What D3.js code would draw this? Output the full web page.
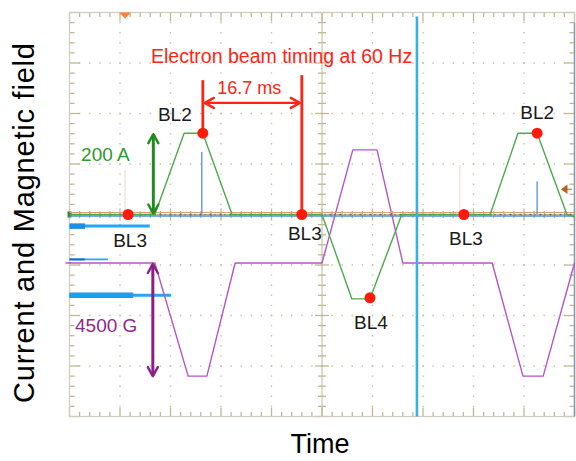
<!DOCTYPE html>
<html>
<head>
<meta charset="utf-8">
<script src="https://cdn.jsdelivr.net/npm/d3@7"></script>
<style>
  body { margin: 0; background: #fff; }
  svg { display: block; font-family: "Liberation Sans", Arial, sans-serif; }
</style>
</head>
<body>
<div id="chart"></div>
<script>
// scope screen: 10 divisions of time, 8 divisions of amplitude (centre = 0)
const currentT = [0, 1.69, 2.27, 2.64, 3.22, 5.0, 5.59, 5.95, 6.58, 8.33, 8.88, 9.26, 9.85, 10];
const currentV = [0, 0, 1.61, 1.61, 0, 0, -1.67, -1.67, 0, 0, 1.61, 1.61, 0, -0.05];
const fieldT = [0, 1.69, 2.35, 2.72, 3.28, 5.0, 5.61, 6.09, 6.6, 8.37, 8.98, 9.38, 10];
const fieldV = [-0.96, -0.96, -3.2, -3.2, -0.96, -0.96, 1.28, 1.28, -0.96, -0.96, -3.2, -3.2, -0.96];
const spikeT = [2.62, 9.26];
const spikeV = [1.24, 0.66];
const faintT = [1.10, 7.73];
const faintV = [0.88, 0.98];
const beamLabels = ['BL3', 'BL2', 'BL3', 'BL4', 'BL3', 'BL2'];
const beamT = [1.16, 2.64, 4.60, 5.95, 7.81, 9.26];
const beamV = [0, 1.61, 0, -1.65, 0, 1.61];
const cursorT = 6.88;
// left-hand level markers (level, thick length, thin length)
const levelV = [-0.23, -0.89, -1.60];
const levelThick = [0.31, 0.30, 1.26];
const levelThin = [1.59, 0.76, 2.01];

// label offsets in px from each beam dot
const labelDx = [2, -28, 3, 1, 2, 0];
const labelDy = [32, -12, 25, 31, 30, -14];

const W = 576, H = 461;
const x = d3.scaleLinear().domain([0, 10]).range([69.5, 574.5]);
const y = d3.scaleLinear().domain([-4, 4]).range([416.5, 12.5]);

const svg = d3.select('#chart').append('svg')
  .attr('width', W)
  .attr('height', H);

svg.append('rect').attr('width', W).attr('height', H).attr('fill', '#fff');

const tickCol = '#bfb792';
const dotCol = '#c4bea2';

// dotted graticule
const grid = svg.append('g');
const minorX = (x(1) - x(0)) / 5;
d3.range(1, 10).filter(d => d !== 5).forEach(d => {
  grid.append('line')
    .attr('x1', x(d)).attr('x2', x(d))
    .attr('y1', y(4)).attr('y2', y(-4))
    .attr('stroke', dotCol).attr('stroke-width', 1.4)
    .attr('stroke-dasharray', `1.4 ${minorX - 1.4}`)
    .attr('stroke-dashoffset', 0.7);
});
d3.range(-3, 4).filter(d => d !== 0).forEach(d => {
  grid.append('line')
    .attr('x1', x(0)).attr('x2', x(10))
    .attr('y1', y(d)).attr('y2', y(d))
    .attr('stroke', dotCol).attr('stroke-width', 1.4)
    .attr('stroke-dasharray', `1.4 ${minorX - 1.4}`)
    .attr('stroke-dashoffset', 0.7);
});

// centre axes
grid.append('line')
  .attr('x1', x(5)).attr('x2', x(5)).attr('y1', y(4)).attr('y2', y(-4))
  .attr('stroke', tickCol).attr('stroke-width', 1);
grid.append('line')
  .attr('x1', x(0)).attr('x2', x(10)).attr('y1', y(0)).attr('y2', y(0))
  .attr('stroke', tickCol).attr('stroke-width', 1);

// ticks on the frame and on the centre axes
const ticks = svg.append('g').attr('stroke', tickCol).attr('stroke-width', 1.3);
d3.range(0, 50.001, 1).forEach(i => {
  const t = i / 5;
  const major = i % 5 === 0;
  const len = major ? 9 : 4.5;
  ticks.append('line').attr('x1', x(t)).attr('x2', x(t)).attr('y1', y(4)).attr('y2', y(4) + len);
  ticks.append('line').attr('x1', x(t)).attr('x2', x(t)).attr('y1', y(-4)).attr('y2', y(-4) - len);
  const c = major ? 6 : 3.5;
  ticks.append('line').attr('x1', x(t)).attr('x2', x(t)).attr('y1', y(0) - c).attr('y2', y(0) + c);
});
d3.range(-20, 20.001, 1).forEach(i => {
  const v = i / 5;
  const major = i % 5 === 0;
  const len = major ? 10 : 5;
  ticks.append('line').attr('y1', y(v)).attr('y2', y(v)).attr('x1', x(0)).attr('x2', x(0) + len);
  ticks.append('line').attr('y1', y(v)).attr('y2', y(v)).attr('x1', x(10)).attr('x2', x(10) - len);
  const c = major ? 7 : 4;
  ticks.append('line').attr('y1', y(v)).attr('y2', y(v)).attr('x1', x(5) - c).attr('x2', x(5) + c);
});

// frame
svg.append('rect')
  .attr('x', x(0)).attr('y', y(4))
  .attr('width', x(10) - x(0)).attr('height', y(-4) - y(4))
  .attr('fill', 'none').attr('stroke', '#cfcbbd').attr('stroke-width', 1.2);
svg.append('line')
  .attr('x1', x(10)).attr('x2', x(10)).attr('y1', y(3.8)).attr('y2', y(-4))
  .attr('stroke', '#8c96aa').attr('stroke-width', 1.5);

// faint trigger lines
svg.selectAll('.faint')
  .data(faintT)
  .enter().append('line')
  .attr('x1', d => x(d)).attr('x2', d => x(d))
  .attr('y1', (d, i) => y(faintV[i])).attr('y2', y(0))
  .attr('stroke', '#f1dcd8').attr('stroke-width', 1.2);

// level markers on the left
levelV.forEach((v, i) => {
  svg.append('line')
    .attr('x1', x(0)).attr('x2', x(levelThin[i]))
    .attr('y1', y(v)).attr('y2', y(v))
    .attr('stroke', '#28a6f2').attr('stroke-width', i === 1 ? 1.8 : 3);
  svg.append('line')
    .attr('x1', x(0)).attr('x2', x(levelThick[i]))
    .attr('y1', y(v)).attr('y2', y(v))
    .attr('stroke', i === 1 ? '#2166c4' : '#1c8ee6').attr('stroke-width', i === 1 ? 2 : 5.5);
});
// thick part of the lowest marker
svg.append('line')
  .attr('x1', x(0)).attr('x2', x(levelThick[2]))
  .attr('y1', y(levelV[2])).attr('y2', y(levelV[2]))
  .attr('stroke', '#1aa0f0').attr('stroke-width', 4.5);

// channel ground markers
svg.append('rect').attr('x', x(0) - 2).attr('y', y(0) - 3).attr('width', 4).attr('height', 6).attr('fill', '#2e8b2e');
svg.append('line').attr('x1', x(0) - 4).attr('x2', x(0) + 1)
  .attr('y1', y(fieldV[0])).attr('y2', y(fieldV[0]))
  .attr('stroke', '#b455c8').attr('stroke-width', 1.5);

const line = d3.line().x(d => x(d[0])).y(d => y(d[1]));

// magnetic field trace
svg.append('path')
  .datum(fieldT.map((t, i) => [t, fieldV[i]]))
  .attr('d', line)
  .attr('fill', 'none').attr('stroke', '#b455c8').attr('stroke-width', 1.4)
  .attr('stroke-linejoin', 'round');

// baseline traces
svg.append('path')
  .datum([[0, 0.04], [10, 0.04]])
  .attr('d', line)
  .attr('fill', 'none').attr('stroke', '#d9a07a').attr('stroke-width', 1.2);
svg.append('path')
  .datum([[0, -0.03], [10, -0.03]])
  .attr('d', line)
  .attr('fill', 'none').attr('stroke', '#4f8fe2').attr('stroke-width', 1.6);
svg.append('path')
  .datum([[0, 0.0], [10, 0.0]])
  .attr('d', line)
  .attr('fill', 'none').attr('stroke', '#1d4f80').attr('stroke-width', 1.6)
  .attr('stroke-dasharray', '2 3 1 4')
  .attr('opacity', 0.75);

// current trace
svg.append('path')
  .datum(currentT.map((t, i) => [t, currentV[i]]))
  .attr('d', line)
  .attr('fill', 'none').attr('stroke', '#4caa4c').attr('stroke-width', 1.4)
  .attr('stroke-linejoin', 'round');

// blue spikes
svg.selectAll('.spike')
  .data(spikeT)
  .enter().append('line')
  .attr('x1', d => x(d)).attr('x2', d => x(d))
  .attr('y1', (d, i) => y(spikeV[i])).attr('y2', y(0))
  .attr('stroke', '#5a8fe0').attr('stroke-width', 1.3);

// cursor
svg.append('line')
  .attr('x1', x(cursorT)).attr('x2', x(cursorT))
  .attr('y1', y(3.92)).attr('y2', y(-4))
  .attr('stroke', '#3aacef').attr('stroke-width', 2.6);

// small scope markers
svg.append('path')
  .attr('d', `M${x(1.1) - 6},${y(4)} L${x(1.1) + 6},${y(4)} L${x(1.1)},${y(4) + 6}Z`)
  .attr('fill', '#ff7f3a');
svg.append('path')
  .attr('d', `M${x(9.75)},${y(0.5)} L${x(9.75) + 5},${y(0.5) - 3.5} L${x(9.75) + 5},${y(0.5) + 3.5}Z M${x(9.75) + 4},${y(0.5)} L${x(9.75) + 10},${y(0.5)}`)
  .attr('fill', '#b5651d').attr('stroke', '#b5651d').attr('stroke-width', 1.2);

// arrow heads
const defs = svg.append('defs');
[['red', '#ff2414'], ['green', '#1f8c1f'], ['purple', '#8a1f8a']].forEach(([id, col]) => {
  defs.append('marker')
    .attr('id', 'head-' + id)
    .attr('viewBox', '-12 -7 14 14')
    .attr('markerWidth', 14).attr('markerHeight', 14)
    .attr('markerUnits', 'userSpaceOnUse')
    .attr('refX', 0).attr('refY', 0)
    .attr('orient', 'auto-start-reverse')
    .append('path')
    .attr('d', 'M-9,-5 L0,0 L-9,5')
    .attr('fill', 'none').attr('stroke', col).attr('stroke-width', 2.4)
    .attr('stroke-linecap', 'round').attr('stroke-linejoin', 'round');
});

// amplitude arrows
svg.append('line')
  .attr('x1', x(1.66)).attr('x2', x(1.66)).attr('y1', y(0) - 1).attr('y2', y(1.61) + 1)
  .attr('stroke', '#1f8c1f').attr('stroke-width', 3)
  .attr('marker-start', 'url(#head-green)').attr('marker-end', 'url(#head-green)');
svg.append('line')
  .attr('x1', x(1.65)).attr('x2', x(1.65)).attr('y1', y(fieldV[0]) + 1).attr('y2', y(-3.22) - 1)
  .attr('stroke', '#8a1f8a').attr('stroke-width', 3)
  .attr('marker-start', 'url(#head-purple)').attr('marker-end', 'url(#head-purple)');

svg.append('text')
  .attr('x', x(0.23)).attr('y', y(1.06))
  .attr('fill', '#2a9a2a').style('font-size', '19px')
  .text('200 A');
svg.append('text')
  .attr('x', x(0.11)).attr('y', y(-2.33))
  .attr('fill', '#8b2a8b').style('font-size', '19px')
  .text('4500 G');

// beam timing annotation
const red = '#ff2414';
svg.append('line')
  .attr('x1', x(beamT[1])).attr('x2', x(beamT[1]))
  .attr('y1', y(2.66)).attr('y2', y(beamV[1]))
  .attr('stroke', red).attr('stroke-width', 2.8);
svg.append('line')
  .attr('x1', x(beamT[2])).attr('x2', x(beamT[2]))
  .attr('y1', y(2.76)).attr('y2', y(beamV[2]))
  .attr('stroke', red).attr('stroke-width', 2.8);
svg.append('line')
  .attr('x1', x(beamT[1]) + 2).attr('x2', x(beamT[2]) - 2)
  .attr('y1', y(2.21)).attr('y2', y(2.21))
  .attr('stroke', red).attr('stroke-width', 2.2)
  .attr('marker-start', 'url(#head-red)').attr('marker-end', 'url(#head-red)');
svg.append('text')
  .attr('x', (x(beamT[1]) + x(beamT[2])) / 2 - 3).attr('y', y(2.39))
  .attr('text-anchor', 'middle')
  .attr('fill', red).style('font-size', '18px')
  .text('16.7 ms');
svg.append('text')
  .attr('x', x(4.2)).attr('y', y(3.0))
  .attr('text-anchor', 'middle')
  .attr('fill', red).style('font-size', '19.5px')
  .text('Electron beam timing at 60 Hz');

// beam dots + labels
svg.selectAll('.beam')
  .data(beamT)
  .enter().append('circle')
  .attr('cx', d => x(d))
  .attr('cy', (d, i) => y(beamV[i]))
  .attr('r', 5.5)
  .attr('fill', '#ff1a0a');
svg.selectAll('.beam-label')
  .data(beamLabels)
  .enter().append('text')
  .attr('x', (d, i) => x(beamT[i]) + labelDx[i])
  .attr('y', (d, i) => y(beamV[i]) + labelDy[i])
  .attr('text-anchor', 'middle')
  .attr('fill', '#1a1a1a').style('font-size', '19px')
  .text(d => d);

// axis titles
svg.append('text')
  .attr('transform', 'translate(34,223) rotate(-90)')
  .attr('text-anchor', 'middle')
  .attr('textLength', 360).attr('lengthAdjust', 'spacing')
  .attr('fill', '#000').style('font-size', '29px')
  .text('Current and Magnetic field');
svg.append('text')
  .attr('x', 320).attr('y', 453)
  .attr('text-anchor', 'middle')
  .attr('fill', '#000').style('font-size', '27px')
  .text('Time');
</script>
</body>
</html>
